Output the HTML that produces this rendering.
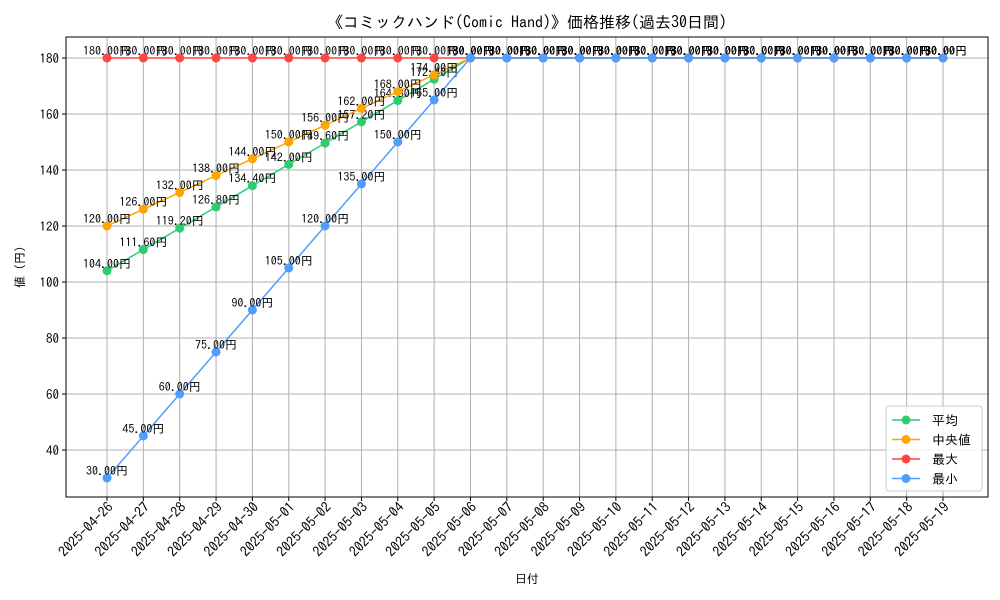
<!DOCTYPE html>
<html><head><meta charset="utf-8"><style>
body{margin:0;background:#fff;}
svg{display:block;font-family:"IPAGothic","Liberation Sans",sans-serif;}
</style></head><body>
<svg id="chart" width="1000" height="600" xmlns="http://www.w3.org/2000/svg">
<rect width="1000" height="600" fill="#fff"/>
<text x="527" y="28" font-size="16" text-anchor="middle">《コミックハンド(Comic Hand)》価格推移(過去30日間)</text>
<text x="527" y="583" font-size="12" text-anchor="middle">日付</text>
<text x="24" y="267" font-size="12" text-anchor="middle" transform="rotate(-90 24 267)">値 (円)</text>
<g id="grid"></g><g id="axes"></g><g id="series"></g><g id="legend"></g>
</svg>
<script>
const dates=["2025-04-26","2025-04-27","2025-04-28","2025-04-29","2025-04-30","2025-05-01","2025-05-02","2025-05-03","2025-05-04","2025-05-05","2025-05-06","2025-05-07","2025-05-08","2025-05-09","2025-05-10","2025-05-11","2025-05-12","2025-05-13","2025-05-14","2025-05-15","2025-05-16","2025-05-17","2025-05-18","2025-05-19"];
const avgVals=[104,111.6,119.2,126.8,134.4,142,149.6,157.2,164.8,172.4,180,180,180,180,180,180,180,180,180,180,180,180,180,180];
const medVals=[120,126,132,138,144,150,156,162,168,174,180,180,180,180,180,180,180,180,180,180,180,180,180,180];
const maxVals=[180,180,180,180,180,180,180,180,180,180,180,180,180,180,180,180,180,180,180,180,180,180,180,180];
const minVals=[30,45,60,75,90,105,120,135,150,165,180,180,180,180,180,180,180,180,180,180,180,180,180,180];
const yTicks=[40,60,80,100,120,140,160,180];
const NS="http://www.w3.org/2000/svg";
const L=66,R=988,T=37,B=497;
const xs=i=>107+i*(943-107)/(dates.length-1);
const ys=v=>58+(180-v)*2.8;
function mk(tag,attrs,parent){const e=document.createElementNS(NS,tag);for(const k in attrs)e.setAttribute(k,attrs[k]);parent.appendChild(e);return e;}
const grid=document.getElementById('grid'),axes=document.getElementById('axes'),ser=document.getElementById('series'),leg=document.getElementById('legend');
dates.forEach((d,i)=>{
  const g=mk('line',{x1:xs(i),x2:xs(i),y1:T,y2:B,stroke:'#b0b0b0','stroke-width':1},grid);
  
  
  mk('line',{x1:xs(i),x2:xs(i),y1:B,y2:B+4,stroke:'#000'},axes);
  const t=mk('text',{x:xs(i)+7,y:B+11,'font-size':14,'text-anchor':'end',transform:`rotate(-45 ${xs(i)+7} ${B+11})`},axes);
  
  
  t.textContent=d;
});
yTicks.forEach(v=>{
  const g=mk('line',{x1:L,x2:R,y1:ys(v),y2:ys(v),stroke:'#b0b0b0','stroke-width':1},grid);
  
  
  mk('line',{x1:L-4,x2:L,y1:ys(v),y2:ys(v),stroke:'#000'},axes);
  const t=mk('text',{x:L-7,y:ys(v)+5,'font-size':13,'text-anchor':'end'},axes);
  
  
  t.textContent=v;
});
const fr=mk('rect',{x:L,y:T,width:R-L,height:B-T,fill:'none',stroke:'#000'},axes);


const series=[["平均",avgVals,"#2ecc71","average"],["中央値",medVals,"#ffa500","median"],["最大",maxVals,"#ff4444","max"],["最小",minVals,"#4d9eff","min"]];
series.forEach(([name,vals,col,key])=>{
  const g=mk('g',{},ser);
  
  
  const p=mk('polyline',{points:vals.map((v,i)=>xs(i)+','+ys(v)).join(' '),fill:'none',stroke:col,'stroke-width':1.5},g);
  
  
  vals.forEach((v,i)=>{
    const c=mk('circle',{cx:xs(i),cy:ys(v),r:4.5,fill:col},g);
    
    
  });
  vals.forEach((v,i)=>{
    const t=mk('text',{x:xs(i),y:ys(v)-3,'font-size':12,'text-anchor':'middle'},g);
    
    
    t.textContent=v.toFixed(2)+'円';
  });
});
const lb=mk('rect',{x:886,y:406,width:96,height:85,rx:3,fill:'#fff','fill-opacity':0.85,stroke:'#ccc'},leg);


series.forEach(([name,vals,col,key],k)=>{
  const y=420+k*19.5;
  const g=mk('g',{},leg);
  
  
  mk('line',{x1:892,x2:920,y1:y,y2:y,stroke:col,'stroke-width':1.5},g);
  mk('circle',{cx:906,cy:y,r:4.5,fill:col},g);
  const t=mk('text',{x:932,y:y+5,'font-size':13},g);
  t.textContent=name;
});
</script>
</body></html>
